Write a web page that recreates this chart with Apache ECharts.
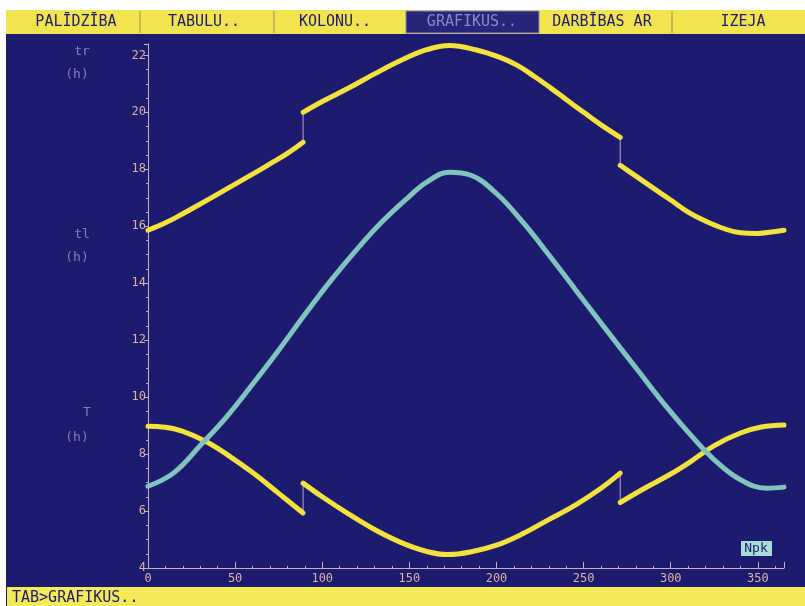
<!DOCTYPE html>
<html>
<head>
<meta charset="utf-8">
<script src="https://cdn.jsdelivr.net/npm/echarts@6/dist/echarts.min.js"></script>
<style>
html,body{margin:0;padding:0;background:#fff;}
#chart{width:805px;height:606px;}
</style>
</head>
<body>
<div id="chart"></div>
<script>
// menu texts
var menuItems = ['PALĪDZĪBA', 'TABULU..', 'KOLONU..', 'GRAFIKUS..', 'DARBĪBAS AR', 'IZEJA'];
var statusText = 'TAB>GRAFIKUS..';

// tr (h) - upper yellow curve, three pieces
var trDays1 = [0, 10, 20, 30, 40, 50, 60, 70, 80, 89];
var trVals1 = [15.86, 16.12, 16.44, 16.78, 17.13, 17.48, 17.83, 18.19, 18.56, 18.95];
var trDays2 = [89, 100, 116, 130, 145, 160, 173, 188, 202, 212, 222, 231, 240, 250, 260, 271];
var trVals2 = [20.0, 20.38, 20.88, 21.35, 21.82, 22.2, 22.35, 22.2, 21.93, 21.65, 21.25, 20.86, 20.45, 20.0, 19.56, 19.12];
var trDays3 = [271, 280, 290, 300, 311, 320, 330, 340, 350, 358, 365];
var trVals3 = [18.14, 17.76, 17.34, 16.92, 16.46, 16.18, 15.93, 15.77, 15.75, 15.8, 15.86];

// tl (h) - lower yellow curve, three pieces
var tlDays1 = [0, 10, 20, 33, 45, 60, 75, 89];
var tlVals1 = [8.98, 8.94, 8.8, 8.45, 8.0, 7.35, 6.62, 5.93];
var tlDays2 = [89, 100, 115, 130, 145, 160, 172, 185, 200, 215, 230, 245, 260, 271];
var tlVals2 = [6.98, 6.5, 5.9, 5.35, 4.9, 4.58, 4.47, 4.56, 4.8, 5.2, 5.7, 6.2, 6.8, 7.33];
var tlDays3 = [271, 285, 300, 311, 325, 340, 352, 365];
var tlVals3 = [6.3, 6.8, 7.3, 7.72, 8.3, 8.74, 8.95, 9.02];

// T (h) - day length, cyan curve
var tDays = [0, 15, 30, 45, 60, 75, 90, 105, 120, 135, 150, 160, 173, 185, 200, 215, 230, 245, 260, 281, 297, 311, 325, 340, 355, 365];
var tVals = [6.87, 7.35, 8.3, 9.3, 10.45, 11.65, 12.9, 14.1, 15.2, 16.2, 17.05, 17.55, 17.9, 17.8, 17.15, 16.15, 15.0, 13.8, 12.6, 10.95, 9.7, 8.7, 7.8, 7.1, 6.8, 6.84];

// the two clock change days
var jumpDays = [89, 271];

function pairs(xs, ys){
	var out = [];
	for(var i = 0; i < xs.length; i++){
		out.push([xs[i], ys[i]]);
	}
	return out;
}

var yellow = '#f3e23c';
var cyan = '#7fc4be';
var bgBlue = '#1d1b70';
var axisCol = '#c9b2b6';
var labelCol = '#dcb4a0';
var mono = '"DejaVu Sans Mono", "Liberation Mono", monospace';

function curve(name, data, color){
	return {
		name: name,
		type: 'line',
		data: data,
		smooth: 0.4,
		symbol: 'none',
		z: 3,
		lineStyle: {color: color, width: 5, cap: 'round', join: 'round'}
	};
}

function jump(data){
	return {
		type: 'line',
		data: data,
		symbol: 'none',
		z: 2,
		lineStyle: {color: '#b9a2c6', width: 1}
	};
}

var chart = echarts.init(document.getElementById('chart'));

// top menu bar pieces
var menuX = [76, 204, 335, 472, 602, 743];
var sepX = [140, 274, 672];
var graphics = [
	{type: 'rect', z: -100, shape: {x: 6, y: 10, width: 799, height: 596}, style: {fill: bgBlue}},
	{type: 'rect', z: -90, shape: {x: 6, y: 10, width: 799, height: 24}, style: {fill: '#f2e44e'}},
	{type: 'rect', z: -80, shape: {x: 406, y: 11, width: 133, height: 22}, style: {fill: '#26257a', stroke: '#8888b8', lineWidth: 1}},
	{type: 'rect', z: -90, shape: {x: 7, y: 587, width: 798, height: 19}, style: {fill: '#f4ea58'}}
];
for(var i = 0; i < sepX.length; i++){
	graphics.push({type: 'line', z: -80, shape: {x1: sepX[i], y1: 11, x2: sepX[i], y2: 33}, style: {stroke: '#9a9060', lineWidth: 1}});
}
for(var i = 0; i < menuItems.length; i++){
	graphics.push({
		type: 'text', z: -70, x: menuX[i], y: 22,
		style: {text: menuItems[i], fill: i == 3 ? '#8a8ac8' : '#1e1c6e', font: '15px ' + mono, align: 'center', verticalAlign: 'middle'}
	});
}
graphics.push({type: 'text', z: -70, x: 12, y: 598, style: {text: statusText, fill: '#1e1c6e', font: '15px ' + mono, align: 'left', verticalAlign: 'middle'}});
// axis captions
var caps = [['tr', 82, 52], ['(h)', 77, 75], ['tl', 82, 235], ['(h)', 77, 258], ['T', 87, 413], ['(h)', 77, 438]];
for(var i = 0; i < caps.length; i++){
	graphics.push({type: 'text', z: -70, x: caps[i][1], y: caps[i][2],
		style: {text: caps[i][0], fill: '#857cb6', font: '13px ' + mono, align: 'center', verticalAlign: 'middle'}});
}
// Npk box
graphics.push({type: 'rect', z: 5, shape: {x: 741, y: 541, width: 31, height: 15}, style: {fill: '#a8dcd6'}});
graphics.push({type: 'text', z: 6, x: 756, y: 549, style: {text: 'Npk', fill: '#1e1c6e', font: '13px ' + mono, align: 'center', verticalAlign: 'middle'}});

var seriesList = [
	curve('tr', pairs(trDays1, trVals1), yellow),
	curve('tr', pairs(trDays2, trVals2), yellow),
	curve('tr', pairs(trDays3, trVals3), yellow),
	curve('tl', pairs(tlDays1, tlVals1), yellow),
	curve('tl', pairs(tlDays2, tlVals2), yellow),
	curve('tl', pairs(tlDays3, tlVals3), yellow),
	curve('T', pairs(tDays, tVals), cyan),
	jump([[jumpDays[0], trVals1[trVals1.length - 1]], [jumpDays[0], trVals2[0]]]),
	jump([[jumpDays[1], trVals2[trVals2.length - 1]], [jumpDays[1], trVals3[0]]]),
	jump([[jumpDays[0], tlVals1[tlVals1.length - 1]], [jumpDays[0], tlVals2[0]]]),
	jump([[jumpDays[1], tlVals2[tlVals2.length - 1]], [jumpDays[1], tlVals3[0]]])
];

chart.setOption({
	animation: false,
	backgroundColor: '#ffffff',
	graphic: graphics,
	grid: {left: 148, right: 21, top: 44, bottom: 38},
	xAxis: {
		type: 'value',
		min: 0,
		max: 365,
		interval: 50,
		axisLine: {lineStyle: {color: axisCol, width: 1}},
		axisTick: {inside: true, length: 6, lineStyle: {color: axisCol}},
		minorTick: {show: true, splitNumber: 5, length: 2, lineStyle: {color: axisCol}},
		splitLine: {show: false},
		axisLabel: {color: labelCol, fontFamily: mono, fontSize: 12, margin: 5, showMaxLabel: false}
	},
	yAxis: {
		type: 'value',
		min: 4,
		max: 22.4,
		interval: 2,
		axisLine: {show: true, lineStyle: {color: axisCol, width: 1}},
		axisTick: {show: true, length: 4, lineStyle: {color: axisCol}},
		minorTick: {show: true, splitNumber: 4, length: 2, lineStyle: {color: axisCol}},
		splitLine: {show: false},
		axisLabel: {color: labelCol, fontFamily: mono, fontSize: 12, margin: 2, showMaxLabel: false}
	},
	series: seriesList
});
</script>
</body>
</html>
